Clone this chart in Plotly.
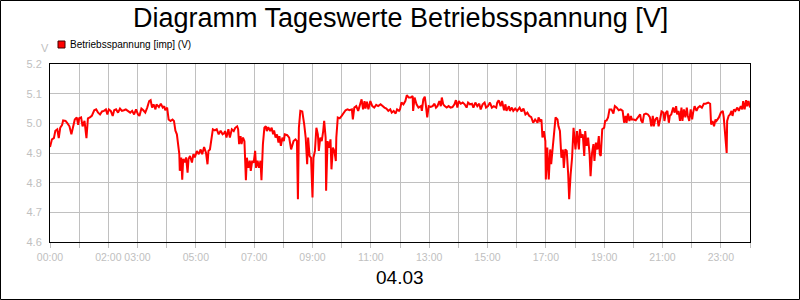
import plotly.graph_objects as go

# time in minutes after 00:00 and voltage values (V)
minutes = [
    0, 4, 8, 11, 15, 18, 21, 25, 27, 32, 36, 40, 44, 47, 51, 55, 58, 60, 64, 67,
    71, 75, 78, 82, 86, 91, 95, 99, 103, 107, 111, 115, 118, 121, 125, 129, 132, 136, 140, 144,
    148, 152, 156, 160, 165, 169, 173, 177, 181, 184, 188, 192, 196, 200, 204, 207, 210, 213, 217, 219,
    224, 228, 232, 235, 237, 241, 244, 248, 252, 255, 258, 261, 263, 266, 267, 270, 272, 274, 277, 280,
    283, 285, 288, 292, 295, 298, 302, 306, 310, 313, 317, 321, 324, 326, 329, 332, 335, 339, 343, 347,
    351, 355, 359,
    360, 363, 367, 370, 374, 378, 381, 385, 387, 389, 392, 394, 397, 400, 403, 405, 408, 411, 413, 416,
    419, 422, 424, 427, 430, 433, 435, 438, 441, 444, 446, 449, 453, 456, 459, 461, 464, 467, 470, 472,
    475, 478, 481, 483, 488, 492, 496, 499, 501, 505, 508, 510, 512, 515, 519, 523, 526, 529, 531, 534,
    537, 540, 542, 545, 548, 551, 553, 556, 559, 562, 564, 567, 568, 571, 574, 577, 579, 582, 585, 588,
    589, 592, 596, 600, 604, 608, 612, 616, 621, 623, 626, 630, 634, 638, 641, 644, 647, 649, 652, 655,
    659, 663, 667, 671, 675, 680, 684, 688, 692, 696, 700, 703, 707, 711, 714, 718,
    720, 723, 727, 731, 734, 738, 742, 746, 747, 750, 754, 758, 763, 765, 768, 771, 773, 776, 779, 783,
    787, 791, 794, 797, 801, 804, 806, 809, 812, 816, 820, 824, 828, 832, 835, 838, 841, 845, 849, 853,
    857, 860, 864, 868, 871, 875, 879, 883, 886, 890, 894, 897, 901, 905, 909, 913, 918, 920, 923, 927,
    930, 934, 937, 939, 944, 946, 950, 953, 957, 961, 966, 970, 974, 978, 982, 986, 990, 994, 998, 1003,
    1005, 1008, 1011, 1013, 1016, 1019, 1020, 1023, 1026, 1029, 1031, 1034, 1037, 1040, 1044, 1046, 1049, 1052, 1055, 1057,
    1060, 1063, 1066, 1068, 1071, 1074,
    1077, 1081, 1084, 1088, 1090, 1093, 1096, 1099, 1101, 1104, 1107, 1110, 1112, 1115, 1118, 1120, 1123, 1126, 1129, 1131,
    1133, 1136, 1140, 1142, 1145, 1148, 1151, 1155, 1159, 1162, 1166, 1170, 1174, 1178, 1181, 1184, 1186, 1189, 1192, 1195,
    1197, 1201, 1205, 1210, 1214, 1216, 1219, 1222, 1226, 1230, 1234, 1237, 1240, 1242, 1245, 1249, 1252, 1255, 1258, 1262,
    1264, 1267, 1270, 1273, 1275, 1278, 1282, 1285, 1288, 1290, 1293, 1296, 1299, 1301, 1304, 1307, 1310, 1312, 1315, 1318,
    1321, 1323, 1326, 1330, 1333, 1337, 1341, 1345, 1349, 1354, 1358, 1360, 1363, 1366, 1369, 1371, 1376, 1380, 1384, 1386,
    1389, 1392, 1393, 1396, 1399, 1402, 1404, 1407, 1410, 1414, 1417, 1421, 1424, 1426, 1429, 1432, 1434, 1437, 1440,
]

voltage = [
    4.920, 4.946, 4.950, 4.975, 4.980, 4.950, 4.985, 4.995, 5.010, 5.008, 5.000, 4.990, 4.963, 4.985, 5.013, 5.020, 4.995, 5.017, 5.020, 4.990,
    5.008, 4.950, 5.017, 5.020, 5.025, 5.044, 5.047, 5.036, 5.030, 5.040, 5.042, 5.047, 5.030, 5.047, 5.042, 5.025, 5.044, 5.047, 5.036, 5.050,
    5.042, 5.044, 5.047, 5.042, 5.036, 5.042, 5.030, 5.047, 5.030, 5.025, 5.050, 5.044, 5.036, 5.053, 5.075, 5.078, 5.053, 5.064, 5.047, 5.064,
    5.055, 5.066, 5.053, 5.058, 5.044, 5.053, 5.013, 5.008, 5.013, 5.008, 4.975, 4.963, 4.930, 4.896, 4.840, 4.885, 4.810, 4.880, 4.868, 4.885,
    4.834, 4.880, 4.890, 4.868, 4.896, 4.885, 4.907, 4.896, 4.912, 4.896, 4.920, 4.900, 4.862, 4.907, 4.912, 4.940, 4.980, 4.976, 4.980, 4.963,
    4.975, 4.963, 4.968,
    4.974, 4.952, 4.980, 4.952, 4.980, 4.974, 4.985, 4.990, 4.980, 4.930, 4.957, 4.930, 4.952, 4.940, 4.808, 4.884, 4.850, 4.874, 4.840, 4.874,
    4.867, 4.907, 4.850, 4.874, 4.850, 4.874, 4.808, 4.930, 4.985, 4.990, 4.974, 4.987, 4.974, 4.985, 4.963, 4.976, 4.952, 4.963, 4.935, 4.957,
    4.924, 4.952, 4.940, 4.963, 4.960, 4.952, 4.912, 4.930, 4.940, 4.946, 4.940, 4.744, 4.985, 5.042, 5.040, 4.996, 4.952, 4.862, 4.952, 4.890,
    4.884, 4.750, 4.884, 4.907, 4.985, 4.963, 4.907, 4.952, 4.940, 4.974, 5.008, 4.952, 4.773, 4.940, 4.918, 4.946, 4.845, 4.918, 4.907, 4.873,
    4.952, 5.020, 5.017, 5.025, 5.036, 5.044, 5.047, 5.044, 5.047, 5.013, 5.053, 5.058, 5.042, 5.064, 5.081, 5.047, 5.075, 5.050, 5.073, 5.047,
    5.075, 5.058, 5.053, 5.062, 5.058, 5.064, 5.058, 5.053, 5.050, 5.042, 5.047, 5.036, 5.042, 5.033, 5.047, 5.042,
    5.047, 5.070, 5.064, 5.075, 5.095, 5.087, 5.087, 5.092, 5.042, 5.087, 5.064, 5.053, 5.058, 5.042, 5.081, 5.090, 5.064, 5.020, 5.058, 5.055,
    5.058, 5.066, 5.053, 5.058, 5.075, 5.058, 5.087, 5.064, 5.058, 5.053, 5.058, 5.053, 5.055, 5.064, 5.078, 5.053, 5.075, 5.066, 5.070, 5.064,
    5.053, 5.070, 5.064, 5.066, 5.053, 5.070, 5.058, 5.066, 5.047, 5.064, 5.070, 5.053, 5.058, 5.070, 5.053, 5.058, 5.053, 5.070, 5.078, 5.058,
    5.075, 5.044, 5.064, 5.042, 5.058, 5.042, 5.053, 5.042, 5.050, 5.042, 5.053, 5.040, 5.050, 5.030, 5.036, 5.025, 5.021, 5.002, 5.013, 5.002,
    5.020, 5.008, 5.013, 4.952, 4.974, 4.940, 4.811, 4.918, 4.811, 4.912, 4.862, 4.918, 4.952, 5.020, 5.013, 4.990, 4.974, 4.884, 4.912, 4.850,
    4.912, 4.907, 4.828, 4.744, 4.828, 4.884,
    4.985, 4.912, 4.974, 4.912, 4.980, 4.952, 4.963, 4.890, 4.974, 4.924, 4.952, 4.896, 4.822, 4.900, 4.930, 4.873, 4.935, 4.912, 4.957, 4.896,
    4.890, 4.980, 4.985, 5.008, 5.010, 5.020, 5.047, 5.047, 5.033, 5.058, 5.053, 5.044, 5.047, 5.042, 5.002, 5.025, 5.002, 5.033, 5.008, 5.025,
    5.013, 5.013, 5.010, 5.020, 5.030, 5.010, 5.002, 5.030, 5.033, 5.030, 5.021, 4.990, 5.025, 4.990, 5.013, 5.020, 4.990, 5.013, 5.040, 5.036,
    5.008, 5.036, 5.042, 5.002, 5.025, 5.030, 5.053, 5.036, 5.058, 5.030, 5.042, 5.008, 5.053, 5.008, 5.047, 5.020, 5.053, 5.025, 5.008, 5.047,
    5.013, 5.036, 5.058, 5.042, 5.053, 5.058, 5.053, 5.066, 5.066, 5.070, 5.066, 4.996, 5.008, 4.990, 5.013, 5.008, 5.020, 5.036, 5.042, 5.020,
    4.952, 4.900, 5.008, 5.025, 5.030, 5.042, 5.025, 5.047, 5.042, 5.053, 5.042, 5.058, 5.047, 5.075, 5.047, 5.078, 5.058, 5.075, 5.053,
]

tick_minutes = [h * 60 for h in range(25)]
tick_labels = ["00:00", "", "02:00", "03:00", "", "05:00", "", "07:00", "", "09:00", "", "11:00", "",
               "13:00", "", "15:00", "", "17:00", "", "19:00", "", "21:00", "", "23:00", ""]

title_text = "Diagramm Tageswerte Betriebsspannung [V]"
date_text = "04.03"
series_name = "Betriebsspannung [imp] (V)"
unit_text = "V"

FONT = "Liberation Sans, Arial, sans-serif"
GRID = "#c0c0c0"

L, R, T, B = 50, 50, 64, 58
W, H = 800, 300
PW, PH = W - L - R, H - T - B


def px(X):
    return (X - L) / PW


def py(Y):
    return (H - B - Y) / PH


fig = go.Figure()
fig.add_trace(go.Scatter(
    x=minutes, y=voltage, mode="lines", name=series_name,
    line=dict(color="#ff0000", width=2), showlegend=False,
))

fig.update_layout(
    width=W, height=H,
    margin=dict(l=L, r=R, t=T, b=B, pad=0),
    paper_bgcolor="white", plot_bgcolor="white",
    font=dict(family=FONT, size=11, color="black"),
    showlegend=False,
    xaxis=dict(
        range=[0, 1440], tickmode="array", tickvals=tick_minutes, ticktext=tick_labels,
        tickangle=0,
        showgrid=True, gridcolor=GRID, gridwidth=1,
        showline=True, linecolor="black", linewidth=1, mirror=True,
        ticks="outside", ticklen=5, tickcolor=GRID, tickwidth=1,
        tickfont=dict(family=FONT, size=10.5, color=GRID),
        zeroline=False, fixedrange=True,
    ),
    yaxis=dict(
        range=[4.6, 5.2], tickmode="array",
        tickvals=[4.6, 4.7, 4.8, 4.9, 5.0, 5.1, 5.2],
        ticktext=["4.6", "4.7", "4.8", "4.9", "5.0", "5.1", "5.2"],
        showgrid=True, gridcolor=GRID, gridwidth=1,
        showline=True, linecolor="black", linewidth=1, mirror=True,
        ticks="", ticklabelstandoff=5,
        tickfont=dict(family=FONT, size=11, color=GRID),
        zeroline=False, fixedrange=True,
    ),
    annotations=[
        dict(text=title_text, x=0.5, y=py(18), xref="paper", yref="paper",
             xanchor="center", yanchor="middle", showarrow=False,
             font=dict(family=FONT, size=27, color="black")),
        dict(text=date_text, x=0.5, y=py(277), xref="paper", yref="paper",
             xanchor="center", yanchor="middle", showarrow=False,
             font=dict(family=FONT, size=19, color="black")),
        dict(text=series_name, x=px(68), y=py(44.5), xref="paper", yref="paper",
             xanchor="left", yanchor="middle", showarrow=False,
             font=dict(family=FONT, size=10, color="black")),
        dict(text=unit_text, x=px(44.5), y=py(48), xref="paper", yref="paper",
             xanchor="center", yanchor="middle", showarrow=False,
             font=dict(family=FONT, size=11, color=GRID)),
    ],
    shapes=[
        dict(type="rect", xref="paper", yref="paper",
             x0=px(58), x1=px(65), y0=py(48), y1=py(41),
             fillcolor="#ff0000", line=dict(color="#400000", width=1)),
        dict(type="rect", xref="paper", yref="paper",
             x0=px(0.5), x1=px(799.5), y0=py(299.5), y1=py(0.5),
             fillcolor="rgba(0,0,0,0)", line=dict(color="black", width=1)),
    ],
)

fig.write_html("out.html")
